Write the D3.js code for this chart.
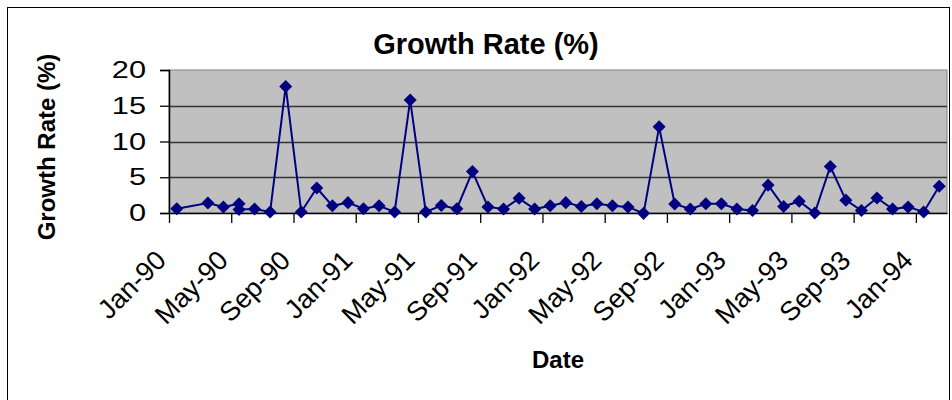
<!DOCTYPE html>
<html>
<head>
<meta charset="utf-8">
<script src="https://cdn.jsdelivr.net/npm/d3@7"></script>
<style>
  body { margin: 0; background: #fff; }
  svg { display: block; font-family: "Liberation Sans", Arial, sans-serif; }
</style>
</head>
<body>
<div id="canvas"></div>
<script>
// months as shown in the sheet (Feb-90 missing, May-90 twice)
const dates = ["Jan-90","Mar-90","Apr-90","May-90","May-90","Jun-90","Jul-90","Aug-90","Sep-90","Oct-90","Nov-90","Dec-90",
  "Jan-91","Feb-91","Mar-91","Apr-91","May-91","Jun-91","Jul-91","Aug-91","Sep-91","Oct-91","Nov-91","Dec-91",
  "Jan-92","Feb-92","Mar-92","Apr-92","May-92","Jun-92","Jul-92","Aug-92","Sep-92","Oct-92","Nov-92","Dec-92",
  "Jan-93","Feb-93","Mar-93","Apr-93","May-93","Jun-93","Jul-93","Aug-93","Sep-93","Oct-93","Nov-93","Dec-93",
  "Jan-94","Feb-94"];
const rates = [0.6,1.4,0.85,1.3,0.5,0.55,0.15,17.7,0.15,3.5,1.0,1.45,
  0.6,1.0,0.15,15.8,0.15,1.05,0.6,5.8,0.85,0.55,2.05,0.55,
  1.0,1.45,0.9,1.3,1.0,0.85,-0.05,12.05,1.25,0.55,1.3,1.3,
  0.55,0.35,3.9,0.9,1.65,0.0,6.5,1.8,0.35,2.1,0.55,0.85,
  0.15,3.75];
const yTicks = [0, 5, 10, 15, 20];
const xTickLabels = ["Jan-90","May-90","Sep-90","Jan-91","May-91","Sep-91","Jan-92","May-92","Sep-92","Jan-93","May-93","Sep-93","Jan-94"];
const title = "Growth Rate (%)";
const xTitle = "Date";
const yTitle = "Growth Rate (%)";

const w = 952, h = 400;
const plotL = 169, plotR = 947, plotT = 70, plotB = 213;

const parse = d3.timeParse("%b-%y");
const start = parse("Jan-90");
const monthIndex = s => d3.timeMonth.count(start, parse(s));

const data = dates.map((d, i) => ({ m: monthIndex(d), v: rates[i] }));

const x = d3.scaleLinear().domain([0, 50]).range([plotL, plotR]);
const y = d3.scaleLinear().domain([0, 20]).range([plotB, plotT]);

let svg = d3.select("#canvas").append("svg")
  .attr("width", w).attr("height", h)
  .attr("viewBox", [0, 0, w, h]);

// chart border
svg.append("rect")
  .attr("x", 7.5).attr("y", 7.5)
  .attr("width", 942).attr("height", 420)
  .attr("fill", "#fff").attr("stroke", "#000").attr("stroke-width", 1);

// plot area
svg.append("rect")
  .attr("x", plotL).attr("y", plotT)
  .attr("width", plotR - plotL).attr("height", plotB - plotT)
  .attr("fill", "#C0C0C0").attr("stroke", "#808080").attr("stroke-width", 1);

// gridlines
svg.append("g").selectAll("line")
  .data(yTicks.slice(1, -1))
  .enter().append("line")
    .attr("x1", plotL).attr("x2", plotR)
    .attr("y1", d => Math.round(y(d)) + 0.5).attr("y2", d => Math.round(y(d)) + 0.5)
    .attr("stroke", "#333").attr("stroke-width", 1.3);

// y axis (tick text is drawn wide, like the original)
const yAxis = d3.axisLeft(y).tickValues(yTicks).tickSize(9).tickPadding(14);
const gY = svg.append("g").attr("transform", `translate(${plotL},0)`).call(yAxis);
gY.select(".domain").attr("stroke", "#000").attr("stroke-width", 1.5);
gY.selectAll(".tick line").attr("stroke", "#000").attr("stroke-width", 1.3);
gY.selectAll(".tick text")
  .attr("font-size", 24).attr("fill", "#000")
  .attr("font-family", "Liberation Sans, Arial, sans-serif")
  .attr("x", 0)
  .attr("transform", "translate(-23,0) scale(1.28,1)");

// x axis
const tickMonths = xTickLabels.map(monthIndex);
const xAxis = d3.axisBottom(x).tickValues(tickMonths)
  .tickFormat((d, i) => xTickLabels[i]).tickSize(10).tickSizeOuter(0);
const gX = svg.append("g").attr("transform", `translate(0,${plotB})`).call(xAxis);
gX.select(".domain").attr("stroke", "#000").attr("stroke-width", 1.5);
gX.selectAll(".tick line").attr("stroke", "#000").attr("stroke-width", 1.3);
gX.selectAll(".tick text")
  .attr("font-size", 27).attr("fill", "#000")
  .attr("font-family", "Liberation Sans, Arial, sans-serif")
  .attr("text-anchor", "end")
  .attr("dy", null)
  .attr("y", 0)
  .attr("transform", "translate(-2,49) rotate(-45)");

// line + diamonds
const line = d3.line()
  .x(d => x(d.m + 0.5))
  .y(d => y(d.v));

svg.append("path")
  .datum(data)
  .attr("d", line)
  .attr("fill", "none")
  .attr("stroke", "#000080")
  .attr("stroke-width", 2);

const diamond = d3.symbol().type(d3.symbolSquare).size(85);
svg.append("g").selectAll("path")
  .data(data)
  .enter().append("path")
    .attr("d", diamond)
    .attr("transform", d => `translate(${x(d.m + 0.5)},${y(d.v)}) rotate(45)`)
    .attr("fill", "#000080");

// titles
svg.append("text")
  .attr("x", 486).attr("y", 54)
  .attr("text-anchor", "middle")
  .attr("font-size", 29).attr("font-weight", "bold")
  .text(title);

svg.append("text")
  .attr("transform", "translate(55,147) rotate(-90)")
  .attr("text-anchor", "middle")
  .attr("font-size", 24).attr("font-weight", "bold")
  .text(yTitle);

svg.append("text")
  .attr("x", 558).attr("y", 368)
  .attr("text-anchor", "middle")
  .attr("font-size", 24).attr("font-weight", "bold")
  .text(xTitle);
</script>
</body>
</html>
